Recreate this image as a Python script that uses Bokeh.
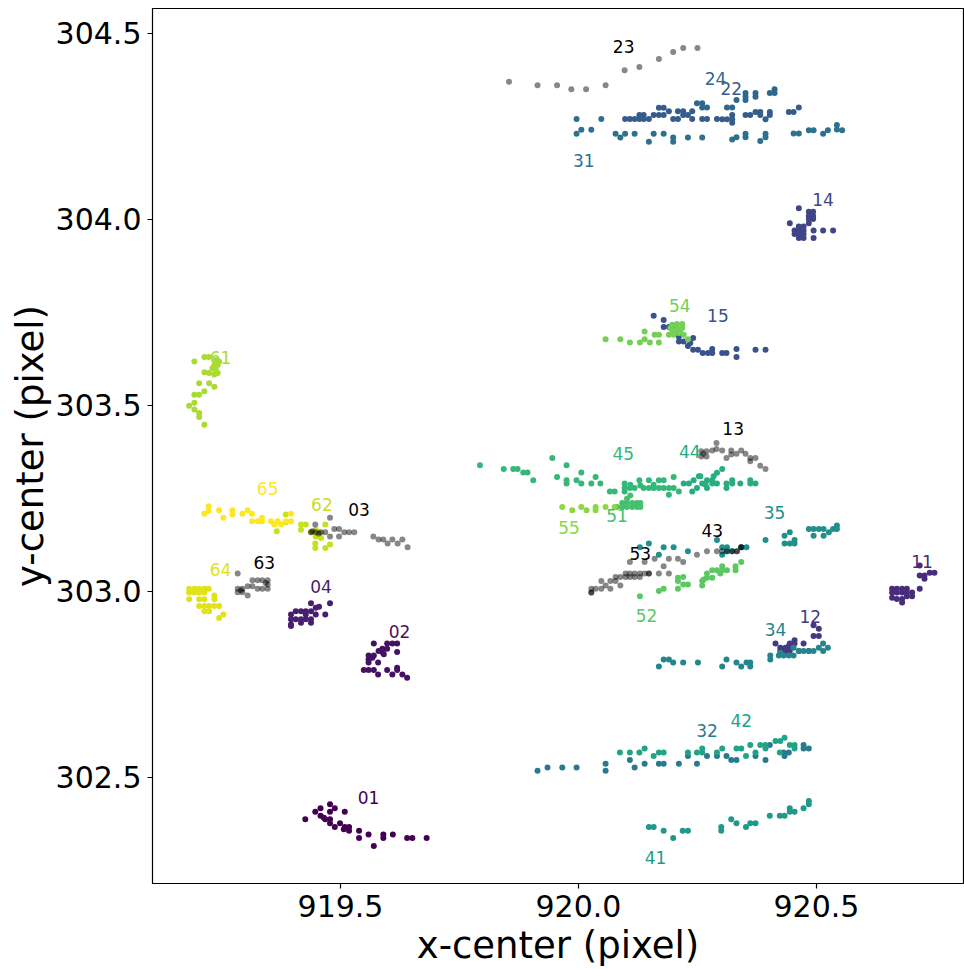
from bokeh.plotting import figure
from bokeh.models import Range1d, FixedTicker, PrintfTickFormatter, ColumnDataSource
from bokeh.core.properties import value
from bokeh.palettes import Viridis256
from bokeh.embed import file_html
from bokeh.resources import INLINE

# ---------------- data (x-center, y-center in pixel units) ----------------
x01 = [919.426, 919.447, 919.458, 919.458, 919.468, 919.478, 919.478, 919.478, 919.478, 919.488, 919.488, 919.499, 919.509, 919.509, 919.518, 919.518, 919.539, 919.539, 919.559, 919.570, 919.590, 919.590, 919.610, 919.640, 919.651, 919.681, 919.465, 919.507]
y01 = [302.388, 302.408, 302.417, 302.397, 302.388, 302.428, 302.408, 302.388, 302.377, 302.417, 302.367, 302.377, 302.408, 302.367, 302.367, 302.357, 302.357, 302.337, 302.347, 302.316, 302.347, 302.337, 302.347, 302.337, 302.337, 302.337, 302.392, 302.361]
x02 = [919.570, 919.580, 919.588, 919.598, 919.609, 919.619, 919.619, 919.598, 919.591, 919.559, 919.559, 919.559, 919.570, 919.579, 919.549, 919.559, 919.570, 919.579, 919.598, 919.609, 919.619, 919.619, 919.630, 919.640, 919.567, 919.589]
y02 = [302.860, 302.840, 302.846, 302.860, 302.860, 302.860, 302.837, 302.846, 302.831, 302.828, 302.817, 302.809, 302.828, 302.809, 302.789, 302.789, 302.789, 302.777, 302.789, 302.777, 302.795, 302.789, 302.777, 302.768, 302.822, 302.835]
x03 = [919.447, 919.438, 919.448, 919.459, 919.468, 919.478, 919.478, 919.487, 919.497, 919.497, 919.508, 919.518, 919.529, 919.569, 919.580, 919.590, 919.599, 919.609, 919.620, 919.630, 919.641, 919.441, 919.454]
y03 = [303.180, 303.159, 303.159, 303.159, 303.159, 303.198, 303.148, 303.168, 303.168, 303.148, 303.159, 303.159, 303.159, 303.148, 303.140, 303.140, 303.129, 303.140, 303.129, 303.140, 303.119, 303.162, 303.156]
x04 = [919.438, 919.448, 919.455, 919.478, 919.468, 919.396, 919.406, 919.417, 919.427, 919.438, 919.448, 919.396, 919.406, 919.417, 919.427, 919.438, 919.396, 919.417, 919.438, 919.427, 919.396]
y04 = [302.968, 302.956, 302.959, 302.968, 302.938, 302.938, 302.947, 302.947, 302.947, 302.947, 302.938, 302.925, 302.925, 302.925, 302.925, 302.925, 302.911, 302.916, 302.916, 302.938, 302.907]
x11 = [920.717, 920.717, 920.717, 920.727, 920.727, 920.738, 920.748, 920.659, 920.669, 920.680, 920.690, 920.659, 920.669, 920.680, 920.690, 920.701, 920.669, 920.680, 920.690, 920.701, 920.680, 920.659]
y11 = [303.070, 303.043, 303.007, 303.034, 303.043, 303.050, 303.050, 303.007, 303.007, 303.007, 303.007, 302.997, 302.997, 302.997, 302.997, 302.997, 302.980, 302.980, 302.987, 302.987, 302.970, 302.983]
x12 = [920.414, 920.424, 920.424, 920.435, 920.435, 920.444, 920.444, 920.444, 920.454, 920.454, 920.463, 920.473, 920.494, 920.505, 920.494, 920.505, 920.431, 920.442, 920.484]
y12 = [302.860, 302.849, 302.840, 302.849, 302.840, 302.860, 302.849, 302.840, 302.869, 302.860, 302.840, 302.860, 302.909, 302.900, 302.880, 302.880, 302.844, 302.853, 302.840]
x13 = [920.258, 920.258, 920.269, 920.269, 920.281, 920.290, 920.290, 920.302, 920.311, 920.321, 920.321, 920.332, 920.342, 920.351, 920.361, 920.361, 920.372, 920.382, 920.393, 920.262]
y13 = [303.377, 303.363, 303.377, 303.363, 303.379, 303.399, 303.383, 303.379, 303.359, 303.379, 303.368, 303.370, 303.379, 303.370, 303.359, 303.350, 303.359, 303.338, 303.329, 303.370]
x14 = [920.463, 920.444, 920.454, 920.454, 920.463, 920.463, 920.463, 920.463, 920.473, 920.473, 920.473, 920.473, 920.484, 920.484, 920.484, 920.484, 920.493, 920.493, 920.493, 920.494, 920.494, 920.514, 920.535]
y14 = [304.030, 303.990, 303.970, 303.961, 303.981, 303.970, 303.961, 303.950, 303.981, 303.970, 303.961, 303.950, 304.021, 304.009, 304.001, 303.990, 304.021, 304.009, 304.001, 303.970, 303.950, 303.970, 303.970]
x15 = [920.158, 920.179, 920.179, 920.190, 920.200, 920.211, 920.211, 920.221, 920.230, 920.241, 920.241, 920.251, 920.261, 920.272, 920.281, 920.281, 920.302, 920.311, 920.332, 920.332, 920.372, 920.393, 920.204, 920.235]
y15 = [303.741, 303.730, 303.711, 303.711, 303.711, 303.685, 303.672, 303.672, 303.660, 303.681, 303.650, 303.650, 303.641, 303.641, 303.652, 303.641, 303.641, 303.641, 303.652, 303.630, 303.650, 303.650, 303.699, 303.668]
x22 = [920.098, 920.108, 920.118, 920.128, 920.128, 920.137, 920.137, 920.148, 920.158, 920.169, 920.169, 920.179, 920.179, 920.190, 920.199, 920.209, 920.209, 920.220, 920.220, 920.230, 920.239, 920.239, 920.260, 920.270, 920.291, 920.302, 920.312, 920.323, 920.323, 920.323, 920.351, 920.361, 920.372, 920.382, 920.382, 920.393, 920.402, 920.402, 920.442, 920.452, 920.463]
y22 = [304.270, 304.270, 304.270, 304.270, 304.281, 304.281, 304.270, 304.270, 304.281, 304.281, 304.300, 304.300, 304.281, 304.291, 304.270, 304.291, 304.270, 304.291, 304.281, 304.281, 304.291, 304.270, 304.270, 304.270, 304.270, 304.269, 304.269, 304.281, 304.269, 304.260, 304.281, 304.281, 304.289, 304.289, 304.281, 304.269, 304.289, 304.281, 304.289, 304.289, 304.301]
x23 = [919.854, 919.914, 919.955, 919.985, 920.016, 920.057, 920.097, 920.128, 920.169, 920.199, 920.220, 920.250]
y23 = [304.370, 304.361, 304.361, 304.350, 304.350, 304.361, 304.401, 304.410, 304.431, 304.450, 304.461, 304.461]
x24 = [920.249, 920.260, 920.260, 920.270, 920.312, 920.323, 920.332, 920.351, 920.351, 920.351, 920.372, 920.372, 920.402, 920.412, 920.412]
y24 = [304.312, 304.312, 304.301, 304.301, 304.301, 304.301, 304.321, 304.340, 304.330, 304.321, 304.340, 304.330, 304.340, 304.350, 304.340]
x31 = [919.996, 919.996, 920.006, 920.027, 920.048, 920.078, 920.088, 920.098, 920.118, 920.148, 920.158, 920.179, 920.199, 920.199, 920.230, 920.260, 920.323, 920.332, 920.351, 920.351, 920.382, 920.393, 920.393, 920.452, 920.463, 920.484, 920.494, 920.514, 920.524, 920.543, 920.543, 920.554]
y31 = [304.270, 304.230, 304.241, 304.241, 304.270, 304.230, 304.220, 304.230, 304.230, 304.209, 304.230, 304.230, 304.220, 304.209, 304.220, 304.220, 304.215, 304.221, 304.230, 304.221, 304.211, 304.230, 304.221, 304.231, 304.231, 304.240, 304.240, 304.230, 304.240, 304.254, 304.242, 304.240]
x32 = [919.914, 919.935, 919.966, 919.996, 920.057, 920.057, 920.108, 920.118, 920.139, 920.169, 920.179, 920.211, 920.230, 920.249, 920.270, 920.291, 920.311, 920.321, 920.332, 920.372, 920.393, 920.402, 920.433, 920.442, 920.473, 920.473, 920.484, 920.431]
y32 = [302.518, 302.527, 302.527, 302.527, 302.537, 302.518, 302.547, 302.527, 302.537, 302.537, 302.537, 302.537, 302.558, 302.537, 302.558, 302.558, 302.558, 302.547, 302.547, 302.558, 302.547, 302.587, 302.558, 302.567, 302.587, 302.578, 302.578, 302.567]
x34 = [920.169, 920.179, 920.190, 920.199, 920.220, 920.251, 920.302, 920.311, 920.332, 920.342, 920.353, 920.361, 920.361, 920.403, 920.403, 920.421, 920.431, 920.442, 920.452, 920.452, 920.463, 920.473, 920.484, 920.494, 920.505, 920.514, 920.514, 920.524, 920.424]
y34 = [302.798, 302.817, 302.817, 302.809, 302.809, 302.809, 302.798, 302.817, 302.809, 302.798, 302.809, 302.809, 302.798, 302.828, 302.817, 302.828, 302.828, 302.828, 302.828, 302.849, 302.840, 302.840, 302.840, 302.840, 302.849, 302.860, 302.840, 302.849, 302.835]
x35 = [920.129, 920.148, 920.169, 920.179, 920.200, 920.230, 920.291, 920.302, 920.302, 920.312, 920.312, 920.323, 920.342, 920.353, 920.393, 920.433, 920.433, 920.444, 920.444, 920.454, 920.454, 920.484, 920.494, 920.494, 920.505, 920.515, 920.515, 920.526, 920.535, 920.543, 920.543]
y35 = [303.119, 303.129, 303.099, 303.119, 303.119, 303.108, 303.138, 303.119, 303.099, 303.119, 303.108, 303.108, 303.119, 303.119, 303.138, 303.150, 303.129, 303.159, 303.129, 303.138, 303.129, 303.168, 303.168, 303.150, 303.168, 303.168, 303.150, 303.159, 303.168, 303.177, 303.168]
x41 = [920.148, 920.158, 920.179, 920.199, 920.219, 920.230, 920.300, 920.300, 920.321, 920.332, 920.352, 920.361, 920.372, 920.402, 920.423, 920.433, 920.444, 920.444, 920.454, 920.473, 920.484, 920.484]
y41 = [302.367, 302.367, 302.357, 302.337, 302.357, 302.357, 302.367, 302.357, 302.388, 302.377, 302.367, 302.377, 302.377, 302.397, 302.397, 302.397, 302.417, 302.408, 302.408, 302.417, 302.437, 302.428]
x42 = [920.087, 920.108, 920.128, 920.139, 920.158, 920.169, 920.179, 920.230, 920.249, 920.260, 920.260, 920.291, 920.302, 920.332, 920.342, 920.361, 920.382, 920.393, 920.393, 920.414, 920.424, 920.433, 920.444, 920.454, 920.454, 920.423, 920.372, 920.352]
y42 = [302.567, 302.567, 302.567, 302.578, 302.558, 302.567, 302.567, 302.567, 302.567, 302.578, 302.567, 302.567, 302.578, 302.578, 302.578, 302.587, 302.587, 302.587, 302.578, 302.598, 302.598, 302.607, 302.587, 302.587, 302.578, 302.567, 302.567, 302.558]
x43 = [920.209, 920.220, 920.249, 920.270, 920.291, 920.302, 920.312, 920.323, 920.333, 920.333, 920.342, 920.342]
y43 = [303.088, 303.079, 303.099, 303.108, 303.108, 303.108, 303.108, 303.108, 303.108, 303.108, 303.119, 303.119]
x44 = [920.221, 920.232, 920.239, 920.242, 920.249, 920.253, 920.260, 920.270, 920.270, 920.281, 920.281, 920.291, 920.291, 920.302, 920.311, 920.311, 920.323, 920.323, 920.340, 920.361, 920.361, 920.372, 920.256, 920.267, 920.284]
y44 = [303.290, 303.290, 303.269, 303.299, 303.278, 303.310, 303.290, 303.299, 303.278, 303.299, 303.290, 303.319, 303.290, 303.329, 303.290, 303.278, 303.299, 303.290, 303.290, 303.299, 303.290, 303.290, 303.310, 303.287, 303.310]
x45 = [919.793, 919.843, 919.863, 919.872, 919.884, 919.893, 919.905, 919.945, 919.955, 919.975, 919.975, 919.975, 919.996, 920.006, 920.006, 920.027, 920.036, 920.046, 920.066, 920.076, 920.097, 920.097, 920.097, 920.108, 920.118, 920.128, 920.137, 920.148, 920.148, 920.158, 920.169, 920.169, 920.179, 920.179, 920.190, 920.200, 920.200, 920.211, 920.190, 920.158, 920.109, 920.130]
y45 = [303.339, 303.329, 303.329, 303.329, 303.320, 303.320, 303.299, 303.359, 303.308, 303.339, 303.299, 303.290, 303.299, 303.320, 303.290, 303.290, 303.308, 303.290, 303.269, 303.269, 303.290, 303.278, 303.269, 303.278, 303.278, 303.299, 303.278, 303.299, 303.278, 303.278, 303.299, 303.278, 303.299, 303.278, 303.260, 303.308, 303.278, 303.269, 303.278, 303.287, 303.287, 303.285]
x51 = [920.081, 920.092, 920.092, 920.102, 920.102, 920.102, 920.109, 920.113, 920.113, 920.123, 920.123, 920.130, 920.130, 920.097, 920.118]
y51 = [303.227, 303.238, 303.227, 303.249, 303.238, 303.227, 303.258, 303.238, 303.227, 303.238, 303.227, 303.238, 303.227, 303.234, 303.234]
x52 = [920.129, 920.169, 920.179, 920.209, 920.209, 920.209, 920.220, 920.220, 920.230, 920.260, 920.260, 920.270, 920.270, 920.281, 920.281, 920.291, 920.302, 920.302, 920.312, 920.330, 920.330, 920.342, 920.263, 920.298]
y52 = [302.987, 303.001, 303.007, 303.037, 303.028, 303.007, 303.039, 303.019, 303.019, 303.016, 303.028, 303.037, 303.048, 303.037, 303.057, 303.057, 303.057, 303.068, 303.057, 303.057, 303.068, 303.079, 303.032, 303.048]
x53 = [920.027, 920.027, 920.027, 920.036, 920.048, 920.048, 920.057, 920.067, 920.067, 920.078, 920.078, 920.088, 920.088, 920.099, 920.099, 920.108, 920.108, 920.108, 920.118, 920.118, 920.129, 920.129, 920.139, 920.139, 920.148, 920.148, 920.160, 920.169, 920.179, 920.190, 920.190]
y53 = [302.997, 302.997, 303.007, 303.007, 303.007, 303.028, 303.016, 303.007, 303.028, 303.028, 303.039, 303.016, 303.039, 303.039, 303.048, 303.039, 303.048, 303.079, 303.048, 303.039, 303.048, 303.039, 303.048, 303.079, 303.048, 303.048, 303.088, 303.048, 303.068, 303.088, 303.048]
x54 = [920.057, 920.088, 920.108, 920.129, 920.139, 920.139, 920.150, 920.160, 920.169, 920.169, 920.190, 920.197, 920.197, 920.204, 920.207, 920.207, 920.211, 920.218, 920.218, 920.221, 920.230, 920.200, 920.193, 920.214]
y54 = [303.678, 303.678, 303.669, 303.669, 303.699, 303.678, 303.669, 303.690, 303.690, 303.669, 303.690, 303.717, 303.703, 303.699, 303.719, 303.708, 303.695, 303.719, 303.708, 303.690, 303.678, 303.690, 303.708, 303.703]
x55 = [919.966, 919.987, 920.006, 920.017, 920.036, 920.036, 920.057, 920.076]
y55 = [303.227, 303.218, 303.227, 303.218, 303.227, 303.218, 303.227, 303.227]
x61 = [919.193, 919.214, 919.223, 919.238, 919.245, 919.235, 919.242, 919.238, 919.231, 919.214, 919.224, 919.235, 919.242, 919.203, 919.224, 919.235, 919.214, 919.193, 919.203, 919.182, 919.193, 919.193, 919.203, 919.203, 919.214]
y61 = [303.618, 303.630, 303.630, 303.623, 303.618, 303.609, 303.609, 303.596, 303.600, 303.589, 303.587, 303.583, 303.587, 303.560, 303.560, 303.550, 303.538, 303.529, 303.529, 303.499, 303.507, 303.489, 303.480, 303.469, 303.448]
x62 = [919.366, 919.385, 919.385, 919.417, 919.417, 919.427, 919.438, 919.448, 919.448, 919.455, 919.447, 919.447, 919.468, 919.468, 919.478, 919.459]
y62 = [303.162, 303.207, 303.186, 303.180, 303.166, 303.180, 303.159, 303.166, 303.148, 303.159, 303.129, 303.117, 303.180, 303.117, 303.126, 303.144]
x63 = [919.284, 919.284, 919.284, 919.294, 919.294, 919.305, 919.305, 919.315, 919.315, 919.326, 919.326, 919.336, 919.336, 919.347, 919.347, 919.347, 919.291, 919.343]
y63 = [303.048, 303.007, 302.998, 303.007, 302.998, 303.014, 302.989, 303.030, 303.014, 303.030, 303.007, 303.030, 303.007, 303.030, 303.019, 303.007, 303.003, 303.023]
x64 = [919.182, 919.193, 919.203, 919.214, 919.223, 919.182, 919.193, 919.203, 919.214, 919.182, 919.203, 919.214, 919.235, 919.235, 919.203, 919.214, 919.224, 919.235, 919.245, 919.214, 919.224, 919.245, 919.254]
y64 = [303.007, 303.007, 303.007, 303.007, 303.007, 302.997, 302.997, 302.997, 302.997, 302.979, 302.979, 302.979, 302.989, 302.979, 302.961, 302.961, 302.961, 302.961, 302.961, 302.947, 302.947, 302.929, 302.938]
x65 = [919.214, 919.223, 919.223, 919.245, 919.254, 919.273, 919.273, 919.294, 919.305, 919.314, 919.314, 919.326, 919.335, 919.335, 919.354, 919.361, 919.368, 919.375, 919.385, 919.396, 919.396]
y65 = [303.209, 303.229, 303.216, 303.218, 303.198, 303.218, 303.207, 303.209, 303.218, 303.209, 303.189, 303.189, 303.189, 303.198, 303.189, 303.180, 303.189, 303.180, 303.189, 303.209, 303.189]

# labels and their anchor positions
label_names = ["01", "02", "03", "04", "11", "12", "13", "14", "15", "22", "23", "24",
               "31", "32", "34", "35", "41", "42", "43", "44", "45", "51", "52", "53",
               "54", "55", "61", "62", "63", "64", "65"]
label_x = [919.559, 919.624, 919.539, 919.459, 920.722, 920.487, 920.325, 920.514, 920.293, 920.321, 920.095, 920.288,
           920.011, 920.270, 920.414, 920.412, 920.162, 920.342, 920.281, 920.234, 920.094, 920.081, 920.143, 920.130,
           920.213, 919.980, 919.248, 919.461, 919.340, 919.248, 919.347]
label_y = [302.446, 302.892, 303.220, 303.014, 303.081, 302.932, 303.437, 304.054, 303.741, 304.353, 304.464, 304.380,
           304.158, 302.625, 302.898, 303.213, 302.285, 302.654, 303.165, 303.375, 303.370, 303.204, 302.936, 303.102,
           303.770, 303.171, 303.628, 303.234, 303.079, 303.059, 303.278]

clusters = {
    "01": (x01, y01), "02": (x02, y02), "03": (x03, y03), "04": (x04, y04),
    "11": (x11, y11), "12": (x12, y12), "13": (x13, y13), "14": (x14, y14), "15": (x15, y15),
    "22": (x22, y22), "23": (x23, y23), "24": (x24, y24),
    "31": (x31, y31), "32": (x32, y32), "34": (x34, y34), "35": (x35, y35),
    "41": (x41, y41), "42": (x42, y42), "43": (x43, y43), "44": (x44, y44), "45": (x45, y45),
    "51": (x51, y51), "52": (x52, y52), "53": (x53, y53), "54": (x54, y54), "55": (x55, y55),
    "61": (x61, y61), "62": (x62, y62), "63": (x63, y63), "64": (x64, y64), "65": (x65, y65),
}

grey_names = [n for n in label_names if n.endswith("3")]
color_names = [n for n in label_names if not n.endswith("3")]
ncol = len(color_names)
colors = {n: Viridis256[round(i * 255 / (ncol - 1))] for i, n in enumerate(color_names)}

# ---------------- figure ----------------
FONT = "DejaVu Sans"
p = figure(width=964, height=969, output_backend="svg", toolbar_location=None,
           x_range=Range1d(919.105, 920.809), y_range=Range1d(302.215, 304.567),
           min_border_left=152, min_border_right=1, min_border_top=8, min_border_bottom=85)
p.background_fill_color = "white"
p.border_fill_color = "white"
p.outline_line_color = "black"
p.outline_line_width = 1.2
p.grid.visible = False

for n in color_names:
    xs, ys = clusters[n]
    p.scatter(xs, ys, size=6, fill_color=colors[n], line_color=None, fill_alpha=1.0)
for n in grey_names:
    xs, ys = clusters[n]
    p.scatter(xs, ys, size=6, fill_color="black", line_color=None, fill_alpha=0.47)

lab_colors = [("black" if n in grey_names else colors[n]) for n in label_names]
src = ColumnDataSource(dict(x=label_x, y=label_y, t=label_names, c=lab_colors))
p.text(x="x", y="y", text="t", text_color="c", source=src,
       text_font=value(FONT), text_font_size="17px",
       text_align="center", text_baseline="middle")

p.xaxis.ticker = FixedTicker(ticks=[919.5, 920.0, 920.5])
p.yaxis.ticker = FixedTicker(ticks=[302.5, 303.0, 303.5, 304.0, 304.5])
for ax in (p.xaxis[0], p.yaxis[0]):
    ax.formatter = PrintfTickFormatter(format="%.1f")
    ax.axis_line_color = None
    ax.major_tick_in = 0
    ax.major_tick_out = 5
    ax.major_tick_line_color = "black"
    ax.major_tick_line_width = 1.2
    ax.minor_tick_line_color = None
    ax.major_label_text_font = FONT
    ax.major_label_text_font_size = "30px"
    ax.major_label_text_color = "black"
    ax.major_label_standoff = 6
    ax.axis_label_text_font = FONT
    ax.axis_label_text_font_size = "37px"
    ax.axis_label_text_font_style = "normal"
    ax.axis_label_text_color = "black"
    ax.axis_label_standoff = 4
p.yaxis[0].axis_label_standoff = 1
p.xaxis.axis_label = "x-center (pixel)"
p.yaxis.axis_label = "y-center (pixel)"

open("out.html", "w").write(file_html(p, INLINE))
